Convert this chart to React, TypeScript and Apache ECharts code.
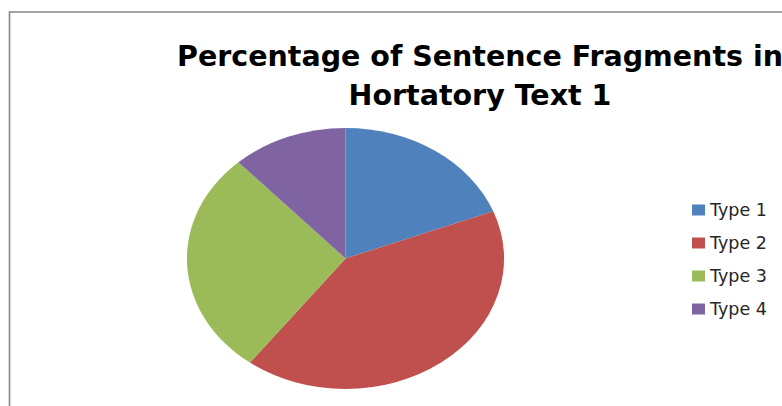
import { useEffect, useRef } from "react";
import * as echarts from "echarts";

const categories = ["Type 1", "Type 2", "Type 3", "Type 4"];
const values = [19.1, 41.2, 27.9, 11.8];
const colors = ["#4F81BD", "#C0504D", "#9BBB59", "#8064A2"];
const titleLines = ["Percentage of Sentence Fragments in", "Hortatory Text 1"];

export default function App() {
  const ref = useRef<HTMLDivElement>(null);
  useEffect(() => {
    const chart = echarts.init(ref.current!, null, { renderer: "svg" });
    const total = values.reduce((a, b) => a + b, 0);
    const starts = values.map((_, i) => values.slice(0, i).reduce((a, b) => a + b, 0));
    const cx = 345.5, cy = 258.5, ry = 130.5, rx = 158.5;
    const series = categories.map((name, i) => ({
      type: "custom",
      name,
      coordinateSystem: "none",
      itemStyle: { color: colors[i] },
      data: [[values[i], starts[i]]],
      renderItem: (_params: any, api: any) => {
        const v = api.value(0) as number;
        const s = api.value(1) as number;
        const a0 = -Math.PI / 2 + (2 * Math.PI * s) / total;
        const a1 = a0 + (2 * Math.PI * v) / total;
        return {
          type: "sector",
          x: cx,
          y: cy,
          scaleX: rx / ry,
          scaleY: 1,
          shape: { cx: 0, cy: 0, r: ry, r0: 0, startAngle: a0, endAngle: a1, clockwise: true },
          style: { fill: colors[i] },
        };
      },
    }));
    chart.setOption({
      animation: false,
      backgroundColor: "#ffffff",
      legend: {
        orient: "vertical",
        left: 687,
        top: 195,
        itemWidth: 13,
        itemHeight: 11,
        itemGap: 13,
        icon: "rect",
        data: categories,
        textStyle: { fontFamily: "DejaVu Sans", fontSize: 17.5, lineHeight: 20, color: "#262626" },
      },
      graphic: [
        {
          type: "rect",
          shape: { x: 9.5, y: 12, width: 900, height: 500 },
          style: { fill: "none", stroke: "#878787", lineWidth: 1.6 },
          silent: true,
        },
        {
          type: "text",
          x: 480,
          y: 56,
          style: {
            text: titleLines[0],
            fontFamily: "DejaVu Sans",
            fontWeight: "bold",
            fontSize: 28.5,
            fill: "#000000",
            align: "center",
            verticalAlign: "middle",
          },
        },
        {
          type: "text",
          x: 480,
          y: 95.5,
          style: {
            text: titleLines[1],
            fontFamily: "DejaVu Sans",
            fontWeight: "bold",
            fontSize: 28.5,
            fill: "#000000",
            align: "center",
            verticalAlign: "middle",
          },
        },
      ],
      series,
    } as any);
    return () => chart.dispose();
  }, []);
  return (
    <div
      ref={ref}
      style={{ position: "fixed", left: 0, top: 0, width: 782, height: 406 }}
    />
  );
}
